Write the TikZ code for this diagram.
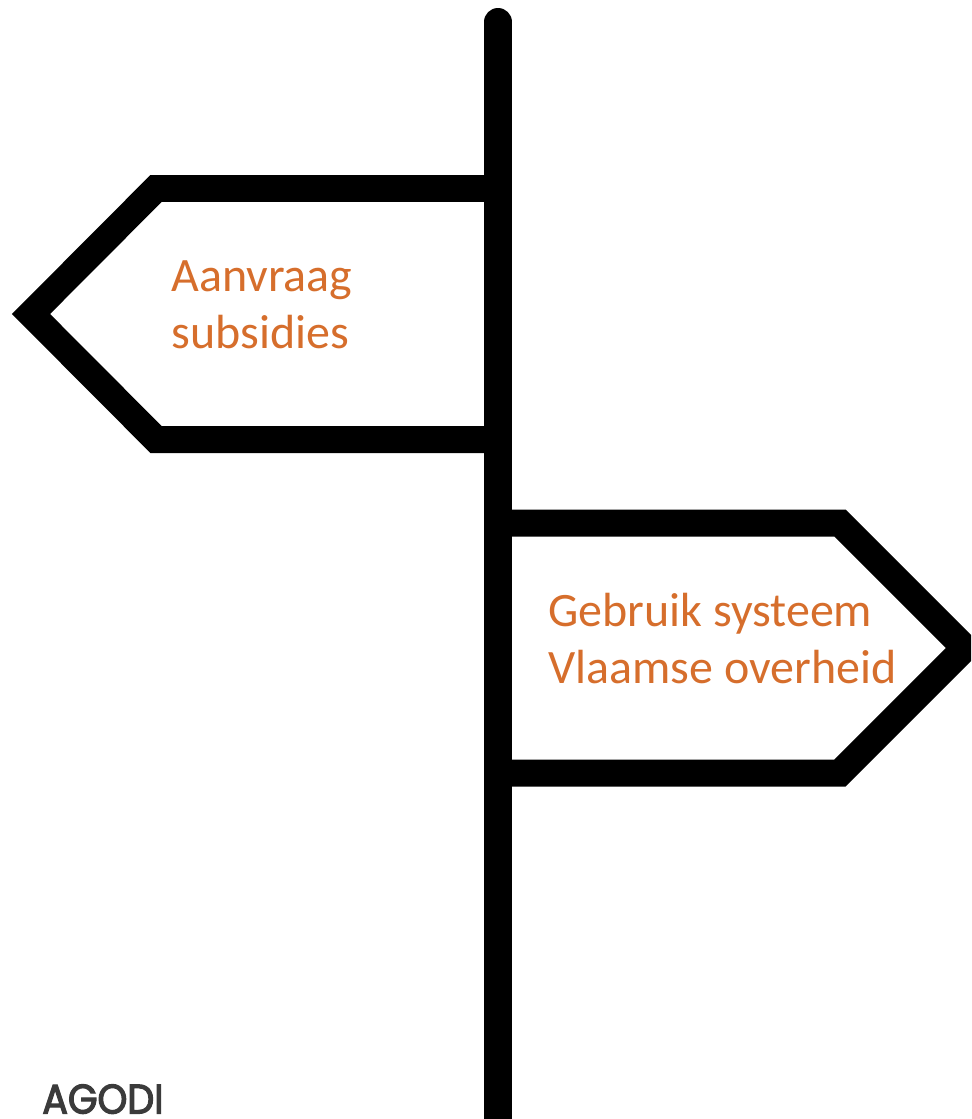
\documentclass[tikz,border=0pt]{standalone}
\usepackage{fontspec}
\setmainfont{Carlito}
\newfontfamily\logofont[FakeBold=3,FakeStretch=0.92]{Poppins}
\definecolor{signtext}{RGB}{214,110,44}
\definecolor{logogray}{RGB}{59,59,59}
\tikzset{
  signline/.style={black,line width=0.54cm,miter limit=10,line join=miter},
  signlabel/.style={signtext,font=\fontsize{27.3}{32.4}\selectfont,align=left,inner sep=0pt,anchor=north west}
}

\begin{document}
\begin{tikzpicture}[x=0.02cm,y=-0.02cm]
    \useasboundingbox (0,0) rectangle (971,1119);
    \clip (0,0) rectangle (971,1119);
    % pole
    \coordinate (poletop) at (498,22);
    \coordinate (polefoot) at (498,1135);
    \draw[black,line width=0.56cm,line cap=round] (poletop) -- (polefoot);
    % left sign
    \draw[signline] (498,188.5) -- (156,188.5) -- (31,314) -- (156,439.5) -- (498,439.5);
    % right sign
    \draw[signline] (498,523) -- (840,523) -- (965,648) -- (840,773) -- (498,773);
    % labels
    \node[signlabel] (aanvraag) at (171,260) {Aanvraag\\subsidies};
    \node[signlabel] (gebruik) at (548,593) {Gebruik systeem\\Vlaamse overheid};
    \node[logogray,inner sep=0pt,anchor=base west,font=\logofont\fontsize{23.5}{24}\selectfont] (logo) at (42,1113.5) {AGODI};
  \end{tikzpicture}
\end{document}
